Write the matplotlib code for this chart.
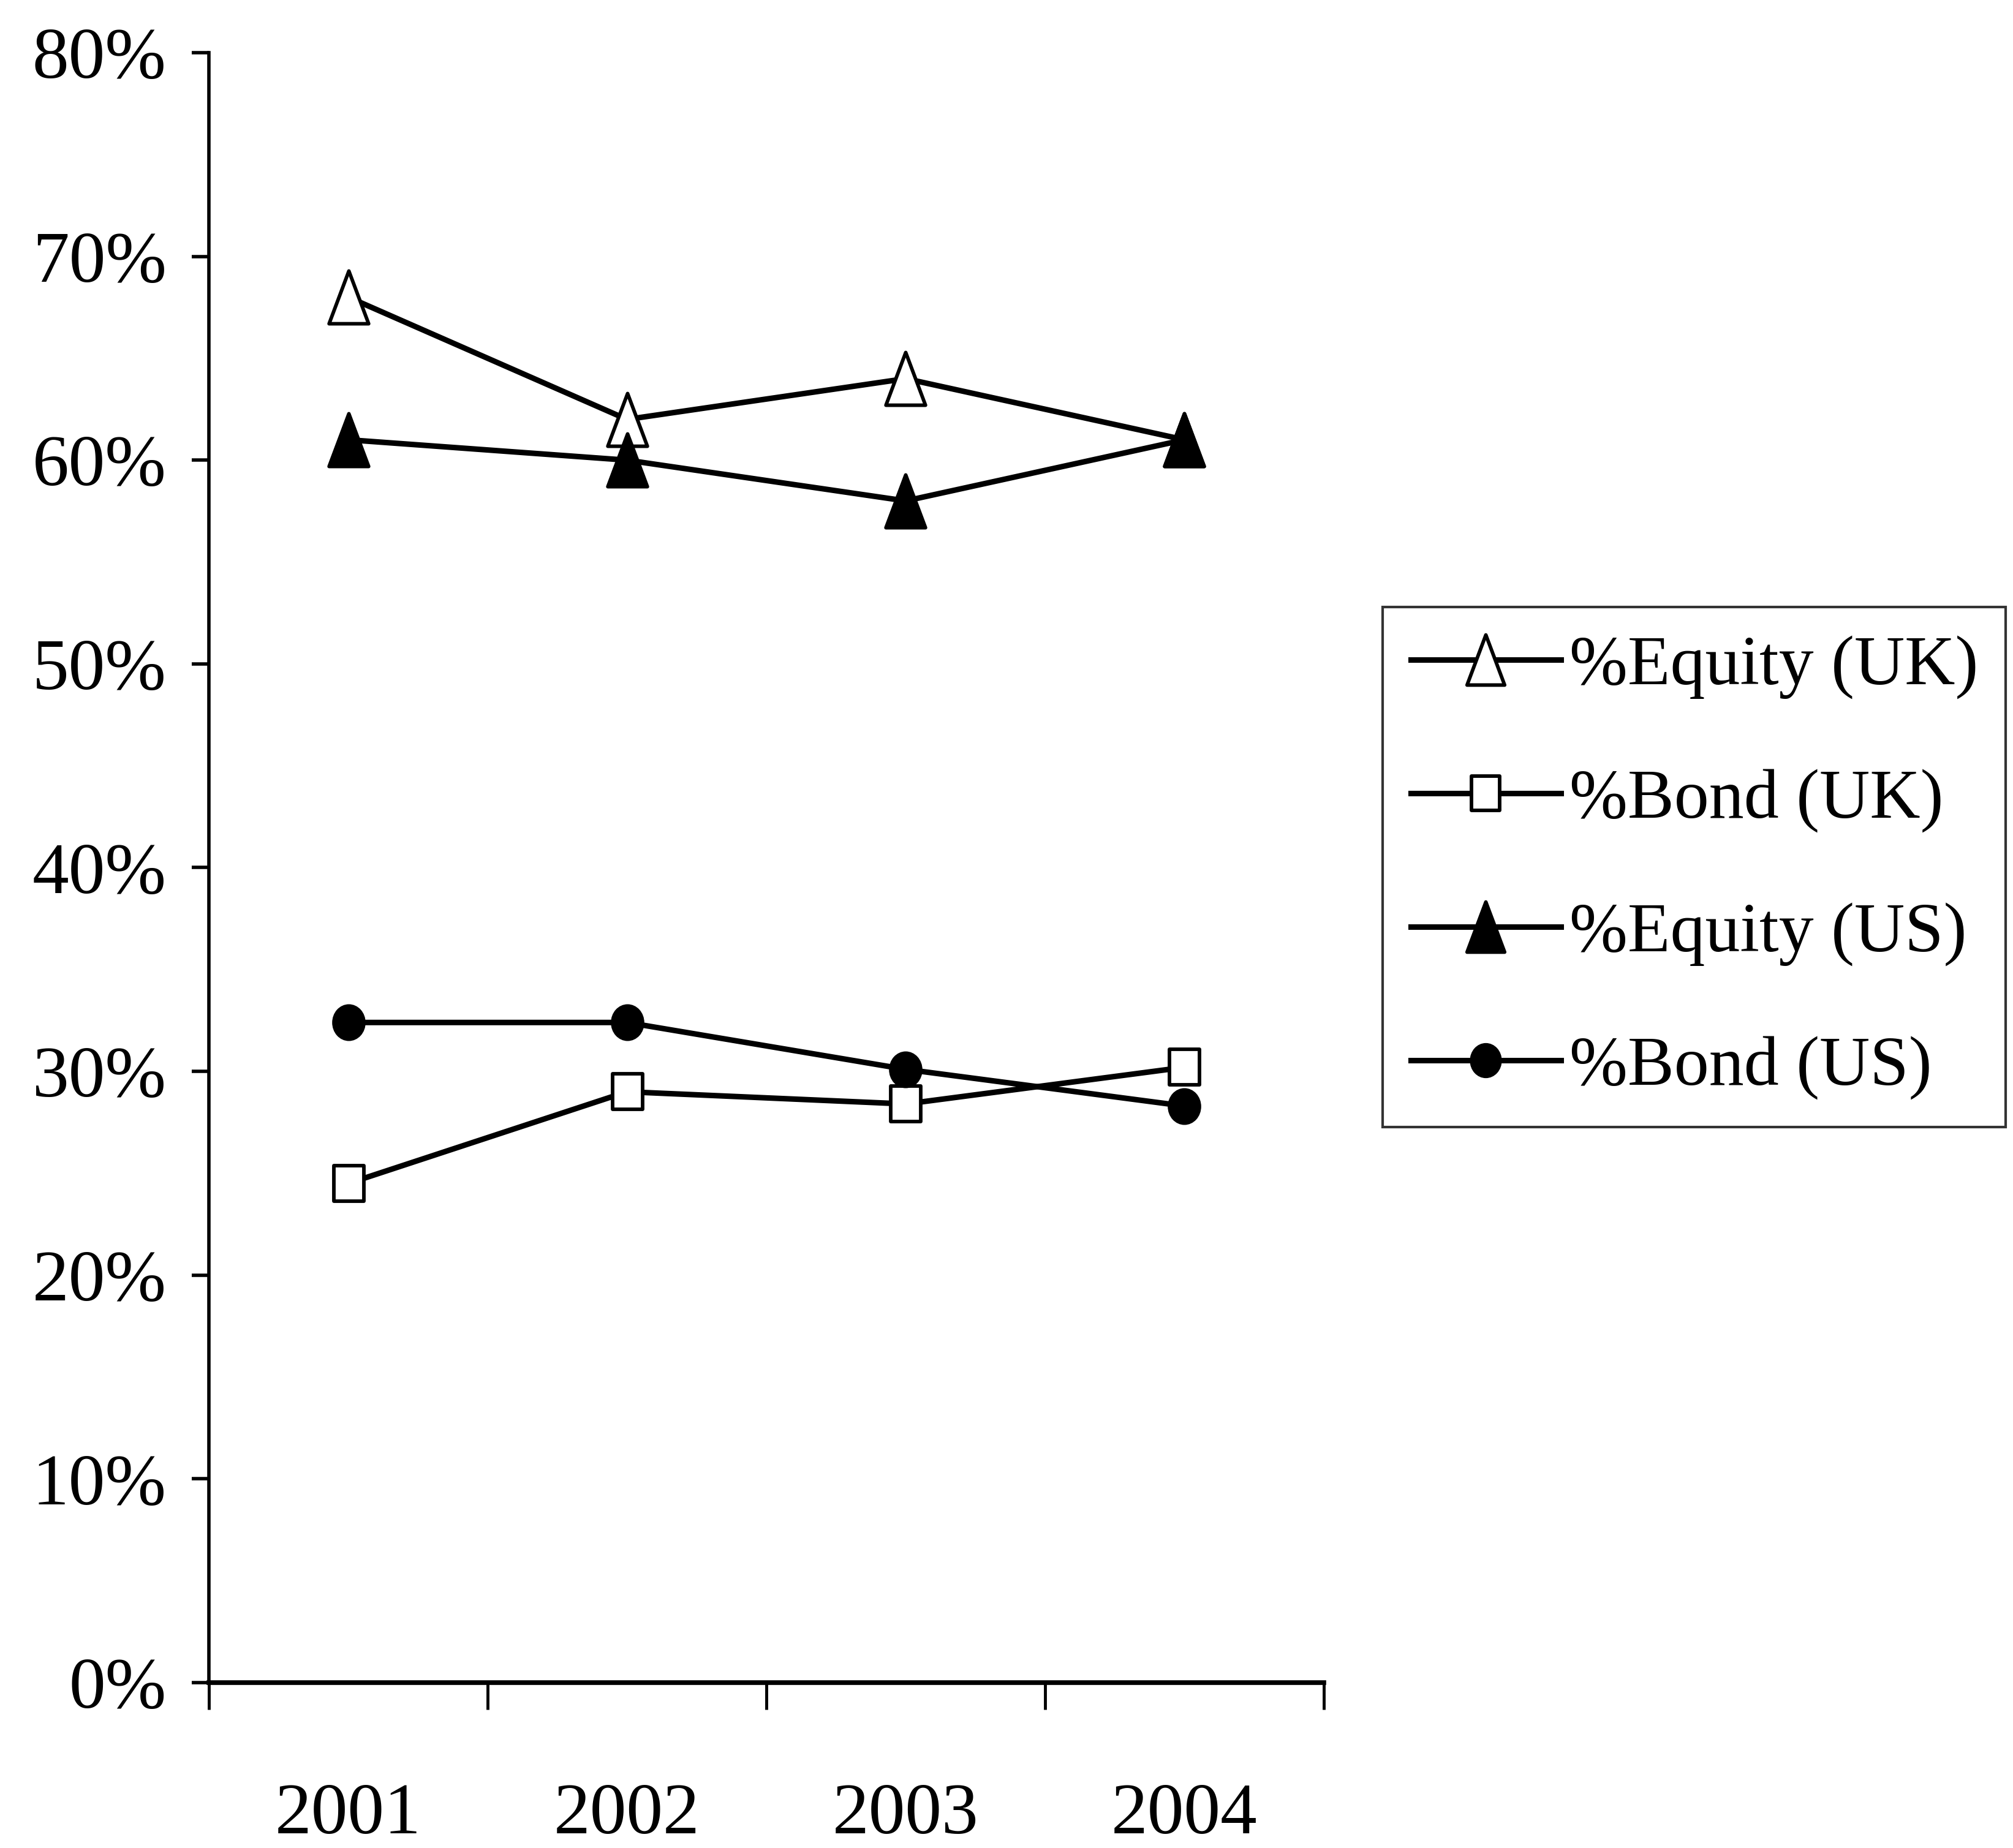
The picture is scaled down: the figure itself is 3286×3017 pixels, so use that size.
import numpy as np
import matplotlib
matplotlib.use("Agg")
import matplotlib.pyplot as plt
from matplotlib.path import Path
from matplotlib.ticker import FixedLocator, NullFormatter, PercentFormatter

# Portfolio allocation shares (percent of total), 2001-2004
years = ["2001", "2002", "2003", "2004"]
equity_uk = [68.0, 62.0, 64.0, 61.0]
bond_uk = [24.5, 29.0, 28.4, 30.2]
equity_us = [61.0, 60.0, 58.0, 61.0]
bond_us = [32.4, 32.4, 30.1, 28.3]

series_labels = ["%Equity (UK)", "%Bond (UK)", "%Equity (US)", "%Bond (US)"]

plt.rcParams["font.family"] = ["Liberation Serif", "DejaVu Serif"]

DPI = 100
fig = plt.figure(figsize=(3286 / DPI, 3017 / DPI), dpi=DPI)
ax = fig.add_axes([0.1038, 0.0895, 0.5538, 0.882])

# Slightly tall marker shapes
tri = Path([(0, 1), (-0.75, -1), (0.75, -1), (0, 1)],
           [Path.MOVETO, Path.LINETO, Path.LINETO, Path.CLOSEPOLY])
sq = Path([(-0.84, -1), (0.84, -1), (0.84, 1), (-0.84, 1), (-0.84, -1)],
          [Path.MOVETO, Path.LINETO, Path.LINETO, Path.LINETO, Path.CLOSEPOLY])
circ_unit = Path.unit_circle()
circ = Path(circ_unit.vertices * np.array([0.9, 1.0]), circ_unit.codes)

x = np.arange(len(years))
lw = 6.5
mew = 4.2
styles = [
    (equity_uk, tri, "white", 62),
    (bond_uk, sq, "white", 42),
    (equity_us, tri, "black", 62),
    (bond_us, circ, "black", 39),
]
for (vals, mk, face, ms), lab in zip(styles, series_labels):
    ax.plot(x, vals, color="black", lw=lw, marker=mk, ms=ms,
            mfc=face, mec="black", mew=mew, label=lab, clip_on=False)

ax.set_xlim(-0.5, 3.5)
ax.set_ylim(0, 80)

for side in ("top", "right"):
    ax.spines[side].set_visible(False)
ax.spines["left"].set_linewidth(4.0)
ax.spines["bottom"].set_linewidth(5.5)

ax.yaxis.set_major_locator(FixedLocator(np.arange(0, 81, 10)))
ax.yaxis.set_major_formatter(PercentFormatter(decimals=0))
ax.tick_params(axis="y", direction="out", length=20, width=4.0,
               pad=30, labelsize=86)

# Category labels between boundary ticks
ax.xaxis.set_major_locator(FixedLocator(x))
ax.set_xticklabels(years)
ax.xaxis.set_minor_locator(FixedLocator(np.arange(-0.5, 3.6, 1.0)))
ax.xaxis.set_minor_formatter(NullFormatter())
ax.tick_params(axis="x", which="major", length=0, pad=118, labelsize=86)
ax.tick_params(axis="x", which="minor", direction="out", length=32, width=3.5)

leg = fig.legend(loc="upper left", bbox_to_anchor=(0.687, 0.6715),
                 borderaxespad=0, frameon=True, fancybox=False,
                 edgecolor="black", fontsize=82, handlelength=2.15,
                 handletextpad=0.12, labelspacing=1.0, borderpad=0.4,
                 markerscale=0.95)
leg.get_frame().set_linewidth(3.0)

fig.savefig("out.png", dpi=DPI, facecolor="white")
